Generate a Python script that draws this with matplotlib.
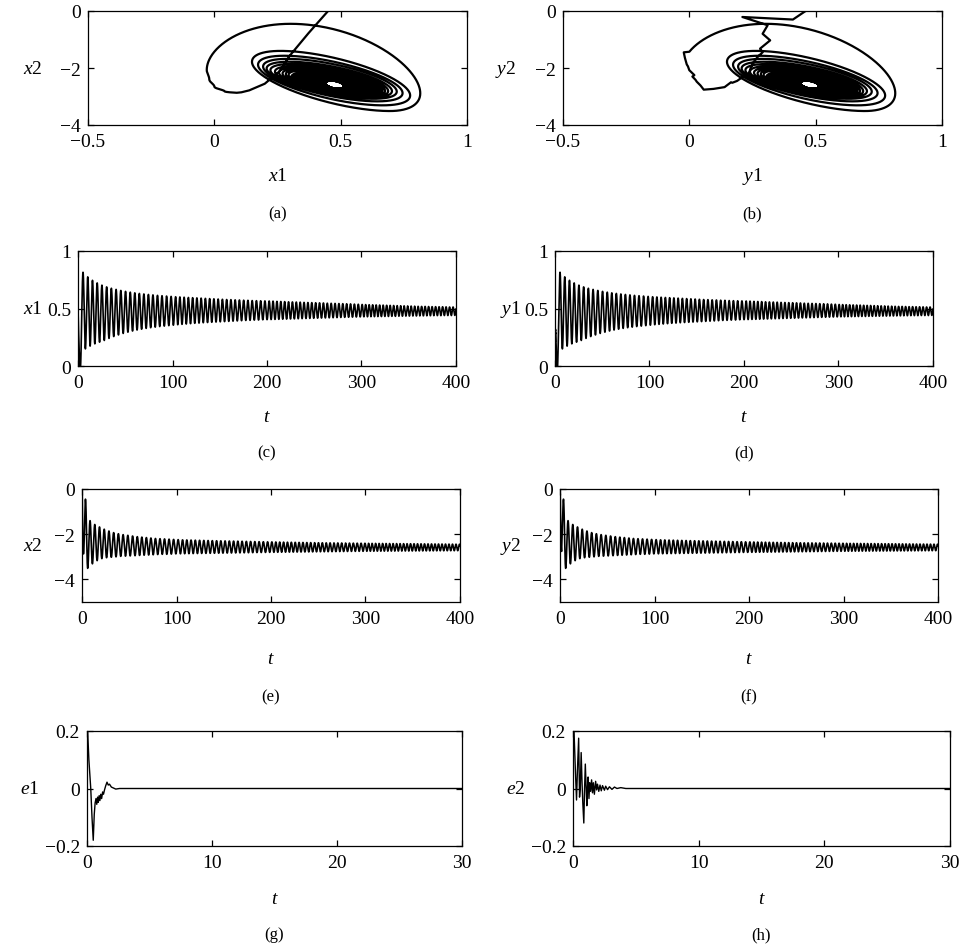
import numpy as np
import matplotlib
matplotlib.use("Agg")
import matplotlib.pyplot as plt

plt.rcParams["font.family"] = "Liberation Serif"
plt.rcParams["mathtext.fontset"] = "custom"
plt.rcParams["mathtext.rm"] = "Liberation Serif"
plt.rcParams["mathtext.it"] = "Liberation Serif:italic"

# ------------------------------------------
# Data

# time of first x1 peak, period over each stretch of the run, cycles in each stretch
first_peak = 5.3
block_period = [5.0, 4.8, 4.5, 4.1, 3.7]
block_cycles = [10, 10, 22, 24, 28]
# x2 extremes come this fraction of a period after x1 extremes (per stretch)
block_lag = [0.14, 0.17, 0.19, 0.19, 0.19]

# per-cycle extremes of the master system
x1_max = [
    0.815, 0.775, 0.745, 0.722, 0.703, 0.688, 0.676, 0.666, 0.657, 0.649,
    0.642, 0.636, 0.631, 0.626, 0.622, 0.618, 0.614, 0.611, 0.608, 0.605,
    0.602, 0.600, 0.598, 0.596, 0.594, 0.592, 0.590, 0.588, 0.586, 0.584, 0.582,
    0.580, 0.578, 0.577, 0.575, 0.574, 0.572, 0.571, 0.569, 0.568, 0.567, 0.566,
    0.565, 0.564, 0.562, 0.561, 0.560, 0.558, 0.557, 0.556, 0.555, 0.553, 0.552, 0.551,
    0.550, 0.549, 0.548, 0.546, 0.545, 0.544, 0.543, 0.542, 0.541, 0.540, 0.538, 0.537,
    0.535, 0.534, 0.533, 0.532, 0.531, 0.530, 0.529, 0.528, 0.527, 0.526, 0.525, 0.524, 0.523, 0.522,
    0.521, 0.520, 0.519, 0.518, 0.518, 0.517, 0.516, 0.516, 0.515, 0.515, 0.514, 0.513, 0.513, 0.512,
]
x1_min = [
    0.149, 0.173, 0.193, 0.207, 0.222, 0.240, 0.256, 0.270, 0.283, 0.294,
    0.304, 0.313, 0.320, 0.327, 0.333, 0.338, 0.343, 0.347, 0.351, 0.355,
    0.359, 0.362, 0.365, 0.368, 0.371, 0.373, 0.376, 0.378, 0.380, 0.382, 0.384,
    0.386, 0.388, 0.390, 0.392, 0.394, 0.396, 0.397, 0.399, 0.400, 0.402, 0.403,
    0.404, 0.405, 0.406, 0.407, 0.408, 0.409, 0.410, 0.411, 0.412, 0.413, 0.414, 0.415,
    0.416, 0.417, 0.418, 0.419, 0.420, 0.421, 0.422, 0.423, 0.424, 0.425, 0.426, 0.427,
    0.428, 0.428, 0.429, 0.429, 0.430, 0.430, 0.431, 0.431, 0.432, 0.432, 0.433, 0.433, 0.434, 0.434,
    0.435, 0.435, 0.436, 0.436, 0.437, 0.437, 0.438, 0.438, 0.438, 0.439, 0.439, 0.439, 0.440, 0.440,
]
x2_min = [
    -3.51, -3.31, -3.17, -3.08, -3.04, -3.02, -3.00, -2.98, -2.97, -2.96,
    -2.95, -2.94, -2.93, -2.92, -2.91, -2.90, -2.89, -2.89, -2.88, -2.87,
    -2.867, -2.864, -2.861, -2.858, -2.855, -2.852, -2.849, -2.846, -2.843, -2.840, -2.837,
    -2.834, -2.831, -2.828, -2.825, -2.822, -2.819, -2.816, -2.813, -2.810, -2.807, -2.804,
    -2.802, -2.800, -2.798, -2.796, -2.794, -2.792, -2.790, -2.788, -2.786, -2.784, -2.782, -2.780,
    -2.778, -2.776, -2.774, -2.772, -2.770, -2.768, -2.766, -2.764, -2.762, -2.760, -2.758, -2.756,
    -2.755, -2.754, -2.753, -2.752, -2.751, -2.750, -2.749, -2.748, -2.747, -2.746, -2.745, -2.744, -2.743, -2.742,
    -2.741, -2.740, -2.739, -2.738, -2.737, -2.736, -2.735, -2.734, -2.733, -2.732, -2.731, -2.730, -2.729, -2.728,
]
x2_max = [
    -1.40, -1.57, -1.68, -1.78, -1.86, -1.93, -1.98, -2.02, -2.05, -2.08,
    -2.11, -2.13, -2.15, -2.17, -2.19, -2.20, -2.21, -2.22, -2.23, -2.24,
    -2.250, -2.255, -2.260, -2.265, -2.270, -2.275, -2.280, -2.285, -2.290, -2.294, -2.298,
    -2.302, -2.306, -2.310, -2.314, -2.318, -2.322, -2.326, -2.330, -2.334, -2.338, -2.342,
    -2.345, -2.348, -2.351, -2.354, -2.357, -2.360, -2.363, -2.366, -2.369, -2.372, -2.375, -2.378,
    -2.380, -2.382, -2.384, -2.386, -2.388, -2.390, -2.392, -2.394, -2.396, -2.398, -2.400, -2.402,
    -2.404, -2.406, -2.407, -2.409, -2.410, -2.412, -2.413, -2.415, -2.416, -2.418, -2.419, -2.421, -2.422, -2.424,
    -2.425, -2.427, -2.428, -2.430, -2.431, -2.433, -2.434, -2.436, -2.437, -2.439, -2.440, -2.442, -2.443, -2.445,
]

# master system before its first regular cycle
x1_head_t = [0.0, 0.15, 0.35, 0.55, 0.75, 1.0, 1.2, 1.4, 1.6, 1.8, 2.0, 2.2, 2.4]
x1_head = [0.50, 0.45, 0.38, 0.30, 0.26, 0.20, 0.14, 0.11, 0.09, 0.04, 0.0, -0.02, -0.03]
x2_head_t = [0.0, 0.15, 0.35, 0.55, 0.75, 1.0, 1.2, 1.4, 1.6, 3.65]
x2_head = [0.50, 0.0, -0.70, -1.55, -2.10, -2.55, -2.78, -2.85, -2.87, -0.45]

# slave system transient; afterwards it sits on the master trajectory
y_head_t = [0.0, 0.10, 0.15, 0.25, 0.32, 0.40, 0.48, 0.56, 0.64, 0.70,
            0.80, 0.88, 0.95, 1.05, 1.12, 1.20, 1.28, 1.35, 1.45, 1.55,
            1.70, 1.78, 1.85, 1.93, 2.00, 2.07, 2.15, 2.25, 2.35, 2.45,
            2.55, 2.65]
y1_head = [0.70, 0.46, 0.41, 0.21, 0.31, 0.29, 0.32, 0.28, 0.29, 0.27,
           0.255, 0.245, 0.235, 0.21, 0.19, 0.17, 0.165, 0.14, 0.12, 0.10,
           0.057, 0.045, 0.03, 0.025, 0.012, 0.02, 0.0, -0.005, -0.01, -0.016,
           -0.02, -0.022]
y2_head = [1.30, 0.0, -0.30, -0.21, -0.50, -0.80, -1.03, -1.32, -1.45, -1.61,
           -1.79, -1.95, -2.20, -2.32, -2.45, -2.52, -2.50, -2.67, -2.70, -2.73,
           -2.76, -2.62, -2.49, -2.42, -2.30, -2.25, -2.08, -1.95, -1.88, -1.70,
           -1.55, -1.45]
y_join = 2.75

# synchronisation errors
e1_t = [0.0, 0.05, 0.15, 0.30, 0.40, 0.50, 0.58, 0.65, 0.72, 0.78, 0.85, 0.90,
        0.97, 1.03, 1.10, 1.17, 1.25, 1.32, 1.40, 1.50, 1.60, 1.70, 1.80, 1.95,
        2.10, 2.30, 2.60, 3.00, 30.0]
e1 = [0.30, 0.20, 0.10, 0.0, -0.10, -0.18, -0.09, -0.05, -0.035, -0.055, -0.03, -0.048,
      -0.025, -0.042, -0.02, -0.035, -0.012, -0.02, -0.005, 0.01, 0.022, 0.012, 0.015, 0.005,
      0.002, -0.002, 0.0, 0.0, 0.0]
e2_t = [0.0, 0.08, 0.20, 0.28, 0.35, 0.45, 0.52, 0.58, 0.65, 0.72, 0.78, 0.86,
        0.92, 0.98, 1.04, 1.10, 1.15, 1.20, 1.27, 1.33, 1.40, 1.48, 1.55, 1.62,
        1.70, 1.80, 1.88, 1.95, 2.05, 2.15, 2.25, 2.35, 2.50, 2.60, 2.75, 2.90,
        3.10, 3.30, 3.50, 3.80, 4.20, 30.0]
e2 = [0.30, 0.20, 0.05, -0.04, 0.06, 0.175, -0.03, 0.0, 0.125, 0.02, -0.05, -0.12,
      0.0, 0.085, 0.01, -0.06, 0.0, 0.04, -0.035, 0.02, -0.01, 0.03, -0.015, 0.02,
      -0.02, 0.025, -0.005, 0.015, -0.01, 0.012, -0.008, 0.01, -0.006, 0.008, -0.004, 0.006,
      -0.003, 0.005, 0.0, 0.003, 0.0, 0.0]

# ticks
phase_xticks = [-0.5, 0, 0.5, 1]
phase_xlabels = ["\u22120.5", "0", "0.5", "1"]
phase_yticks = [-4, -2, 0]
phase_ylabels = ["\u22124", "\u22122", "0"]
long_tticks = [0, 100, 200, 300, 400]
x1_ticks = [0, 0.5, 1]
x1_labels = ["0", "0.5", "1"]
x2_ticks = [-4, -2, 0]
x2_labels = ["\u22124", "\u22122", "0"]
short_tticks = [0, 10, 20, 30]
e_ticks = [-0.2, 0, 0.2]
e_labels = ["\u22120.2", "0", "0.2"]


# ------------------------------------------
# Utilities

def smooth_through(t, knot_t, knot_v):
    # half-cosine steps between consecutive read-off knots
    knot_t = np.asarray(knot_t, dtype=float)
    knot_v = np.asarray(knot_v, dtype=float)
    i = np.clip(np.searchsorted(knot_t, t, side="right") - 1, 0, len(knot_t) - 2)
    s = np.clip((t - knot_t[i]) / (knot_t[i + 1] - knot_t[i]), 0, 1)
    return knot_v[i] + (knot_v[i + 1] - knot_v[i]) * (1 - np.cos(np.pi * s)) / 2


def interleave(a, b):
    return np.column_stack([a, b]).ravel()


W, H = 962, 953


def add_box(fig, x0, y0, x1, y1):
    return fig.add_axes([x0 / W, 1 - y1 / H, (x1 - x0) / W, (y1 - y0) / H])


def style(ax, xticks, xlabels, yticks, ylabels, xlim, ylim):
    ax.set_xlim(xlim)
    ax.set_ylim(ylim)
    ax.set_xticks(xticks)
    ax.set_xticklabels(xlabels)
    ax.set_yticks(yticks)
    ax.set_yticklabels(ylabels)
    ax.tick_params(direction="in", top=True, right=True, length=4, width=0.9,
                   labelsize=14)
    ax.tick_params(axis="x", pad=6)
    ax.tick_params(axis="y", pad=5)
    for sp in ax.spines.values():
        sp.set_linewidth(0.9)


# ------------------------------------------
# Build trajectories

period = np.repeat(block_period, block_cycles)
lag = np.repeat(block_lag, block_cycles) * period
t_peak = first_peak + np.concatenate([[0.0], np.cumsum(period[:-1])])
t_trough = t_peak + period / 2

x1_kt = np.concatenate([x1_head_t, interleave(t_peak, t_trough)])
x1_kv = np.concatenate([x1_head, interleave(x1_max, x1_min)])
x2_kt = np.concatenate([x2_head_t, interleave(t_peak + lag, t_trough + lag)])
x2_kv = np.concatenate([x2_head, interleave(x2_min, x2_max)])

t = np.linspace(0, 400, 40001)
x1 = smooth_through(t, x1_kt, x1_kv)
x2 = smooth_through(t, x2_kt, x2_kv)

j1 = float(smooth_through(np.array([y_join]), x1_kt, x1_kv)[0])
j2 = float(smooth_through(np.array([y_join]), x2_kt, x2_kv)[0])
early = t < y_join
y1 = x1.copy()
y2 = x2.copy()
y1[early] = smooth_through(t[early], y_head_t + [y_join], y1_head + [j1])
y2[early] = smooth_through(t[early], y_head_t + [y_join], y2_head + [j2])

# ------------------------------------------
# Figure

fig = plt.figure(figsize=(W / 100, H / 100), dpi=100)

boxes = {
    "a": (88, 12, 467, 126), "b": (563, 12, 942, 126),
    "c": (78, 252, 456, 367), "d": (555, 252, 933, 367),
    "e": (82, 490, 460, 603), "f": (560, 490, 938, 603),
    "g": (87, 732, 462, 847), "h": (573, 732, 950, 847),
}
ylabel_x = {"a": 33, "b": 506, "c": 33, "d": 510, "e": 33, "f": 511, "g": 30, "h": 516}
row_text = {12: (177, 214), 252: (418, 453), 490: (660, 697), 732: (900, 935)}

panels = [
    ("a", x1, x2, "$x$1", "$x$2", "phase"),
    ("b", y1, y2, "$y$1", "$y$2", "phase"),
    ("c", t, x1, "$t$", "$x$1", "x1"),
    ("d", t, y1, "$t$", "$y$1", "x1"),
    ("e", t, x2, "$t$", "$x$2", "x2"),
    ("f", t, y2, "$t$", "$y$2", "x2"),
    ("g", e1_t, e1, "$t$", "$e$1", "err"),
    ("h", e2_t, e2, "$t$", "$e$2", "err"),
]
line_width = {"phase": 1.6, "x1": 1.2, "x2": 1.2, "err": 1.0}

for key, xs, ys, xl, yl, kind in panels:
    x0, y0, xr, yb = boxes[key]
    ax = add_box(fig, x0, y0, xr, yb)
    ax.plot(xs, ys, color="black", linewidth=line_width[kind])
    if kind == "phase":
        style(ax, phase_xticks, phase_xlabels, phase_yticks, phase_ylabels, (-0.5, 1), (-4, 0))
    elif kind == "x1":
        style(ax, long_tticks, [str(v) for v in long_tticks], x1_ticks, x1_labels, (0, 400), (0, 1))
    elif kind == "x2":
        style(ax, long_tticks, [str(v) for v in long_tticks], x2_ticks, x2_labels, (0, 400), (-5, 0))
    else:
        style(ax, short_tticks, [str(v) for v in short_tticks], e_ticks, e_labels, (0, 30), (-0.2, 0.2))

    xlab_y, cap_y = row_text[y0]
    cx = (x0 + xr) / 2
    fig.text(cx / W, 1 - xlab_y / H, xl, ha="center", va="center", fontsize=14)
    fig.text(ylabel_x[key] / W, 1 - (y0 + yb) / 2 / H, yl, ha="center", va="center", fontsize=14)
    fig.text(cx / W, 1 - cap_y / H, "(%s)" % key, ha="center", va="center", fontsize=12)

fig.savefig("out.png", dpi=100)
